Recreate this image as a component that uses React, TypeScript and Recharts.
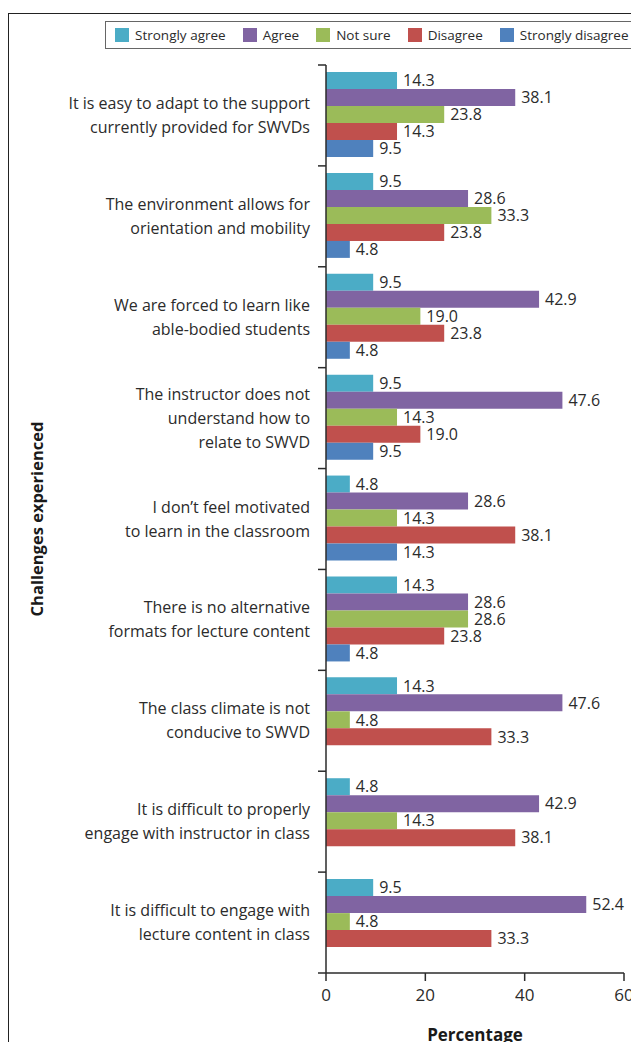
import React from 'react';
import { Bar, BarChart, LabelList, XAxis, YAxis } from 'recharts';

const CATEGORIES = [
  'It is easy to adapt to the support\ncurrently provided for SWVDs',
  'The environment allows for\norientation and mobility',
  'We are forced to learn like\nable-bodied students',
  'The instructor does not\nunderstand how to\nrelate to SWVD',
  'I don\u2019t feel motivated\nto learn in the classroom',
  'There is no alternative\nformats for lecture content',
  'The class climate is not\nconducive to SWVD',
  'It is difficult to properly\nengage with instructor in class',
  'It is difficult to engage with\nlecture content  in class',
];

const STRONGLY_AGREE = [14.3, 9.5, 9.5, 9.5, 4.8, 14.3, 14.3, 4.8, 9.5];
const AGREE = [38.1, 28.6, 42.9, 47.6, 28.6, 28.6, 47.6, 42.9, 52.4];
const NOT_SURE = [23.8, 33.3, 19.0, 14.3, 14.3, 28.6, 4.8, 14.3, 4.8];
const DISAGREE = [14.3, 23.8, 23.8, 19.0, 38.1, 23.8, 33.3, 38.1, 33.3];
const STRONGLY_DISAGREE = [9.5, 4.8, 4.8, 9.5, 14.3, 4.8, null, null, null];

const X_TICKS = [0, 20, 40, 60];

const SERIES = [
  { key: 'stronglyAgree', name: 'Strongly agree', color: '#4BACC6', values: STRONGLY_AGREE },
  { key: 'agree', name: 'Agree', color: '#8064A2', values: AGREE },
  { key: 'notSure', name: 'Not sure', color: '#9BBB59', values: NOT_SURE },
  { key: 'disagree', name: 'Disagree', color: '#C0504D', values: DISAGREE },
  { key: 'stronglyDisagree', name: 'Strongly disagree', color: '#4F81BD', values: STRONGLY_DISAGREE },
];

const data = CATEGORIES.map((category, i) => {
  const row: Record<string, string | number | null> = { category };
  SERIES.forEach((s) => {
    row[s.key] = s.values[i];
  });
  return row;
});

const FONT = '"Open Sans", sans-serif';
const INK = '#2b2b2b';

const WIDTH = 631;
const HEIGHT = 1042;
const MARGIN = { top: 57, right: 15, bottom: 1, left: 0 };
const Y_AXIS_WIDTH = 318;
const X_AXIS_HEIGHT = 76;
const PLOT_HEIGHT = HEIGHT - MARGIN.top - MARGIN.bottom - X_AXIS_HEIGHT;
const BAND = PLOT_HEIGHT / CATEGORIES.length;
const AXIS_X = MARGIN.left + Y_AXIS_WIDTH;

const fmt = (v: unknown) => (v == null ? '' : Number(v).toFixed(1));

// category labels on several lines, plus the tick marks sitting on band edges
function CategoryTick(props: any) {
  const { y, payload, index } = props;
  const lines = String(payload.value).split('\n');
  const lineH = 24;
  const first = y - ((lines.length - 1) * lineH) / 2;
  return (
    <g>
      <line x1={AXIS_X - 8} x2={AXIS_X} y1={y - BAND / 2} y2={y - BAND / 2} stroke={INK} strokeWidth={1.5} />
      {index === CATEGORIES.length - 1 && (
        <line x1={AXIS_X - 8} x2={AXIS_X} y1={y + BAND / 2} y2={y + BAND / 2} stroke={INK} strokeWidth={1.5} />
      )}
      <text x={AXIS_X - 16} y={first} textAnchor="end" fill={INK} fontSize={16} fontFamily={FONT}>
        {lines.map((line, i) => (
          <tspan key={i} x={AXIS_X - 16} y={first + i * lineH} dy="0.35em">
            {line}
          </tspan>
        ))}
      </text>
    </g>
  );
}

function YTitle(props: any) {
  const vb = props.viewBox || {};
  const cy = (vb.y ?? MARGIN.top) + (vb.height ?? PLOT_HEIGHT) / 2;
  return (
    <text
      x={28}
      y={cy}
      transform={`rotate(-90, 28, ${cy})`}
      textAnchor="middle"
      dominantBaseline="central"
      fill="#1a1a1a"
      fontSize={16.5}
      fontWeight={700}
      fontFamily={FONT}
    >
      Challenges experienced
    </text>
  );
}

function LegendBox() {
  return (
    <div
      style={{
        position: 'absolute',
        left: 97,
        top: 13,
        width: 560,
        height: 26,
        border: '1.5px solid #666',
        display: 'flex',
        alignItems: 'center',
        paddingLeft: 9,
        fontSize: 13.5,
        color: INK,
        boxSizing: 'content-box',
      }}
    >
      {SERIES.map((s) => (
        <div key={s.key} style={{ display: 'flex', alignItems: 'center', marginRight: 17 }}>
          <span style={{ width: 14, height: 14, background: s.color, marginRight: 6, display: 'inline-block' }} />
          <span>{s.name}</span>
        </div>
      ))}
    </div>
  );
}

export default function App() {
  // negative bottom margin cancels the body margin so the page stays 1050px tall
  return (
    <div
      style={{
        position: 'relative',
        width: WIDTH,
        height: HEIGHT,
        marginBottom: -8,
        overflow: 'hidden',
        fontFamily: FONT,
      }}
    >
      <div
        style={{
          position: 'absolute',
          left: 0,
          top: 5,
          width: WIDTH + 20,
          height: HEIGHT,
          borderTop: '1.5px solid #222',
          borderLeft: '1.5px solid #222',
        }}
      />
      <LegendBox />
      <BarChart
        width={WIDTH}
        height={HEIGHT}
        data={data}
        layout="vertical"
        margin={MARGIN}
        barCategoryGap={7}
        barGap={0}
        style={{ fontFamily: FONT }}
      >
        <XAxis
          type="number"
          domain={[0, 60]}
          ticks={X_TICKS}
          height={X_AXIS_HEIGHT}
          tickSize={8}
          tickMargin={8}
          axisLine={{ stroke: INK, strokeWidth: 1.5 }}
          tickLine={{ stroke: INK, strokeWidth: 1.5 }}
          tick={{ fill: INK, fontSize: 17 }}
          label={{ value: 'Percentage', position: 'insideBottom', offset: 8, fill: '#1a1a1a', fontSize: 17, fontWeight: 700 }}
        />
        <YAxis
          type="category"
          dataKey="category"
          width={Y_AXIS_WIDTH}
          axisLine={{ stroke: INK, strokeWidth: 1.5 }}
          tickLine={false}
          tick={<CategoryTick />}
          interval={0}
          label={<YTitle />}
        />
        {SERIES.map((s) => (
          <Bar key={s.key} dataKey={s.key} name={s.name} fill={s.color} isAnimationActive={false}>
            <LabelList dataKey={s.key} position="right" offset={6} formatter={fmt} fill={INK} fontSize={16} />
          </Bar>
        ))}
      </BarChart>
    </div>
  );
}
